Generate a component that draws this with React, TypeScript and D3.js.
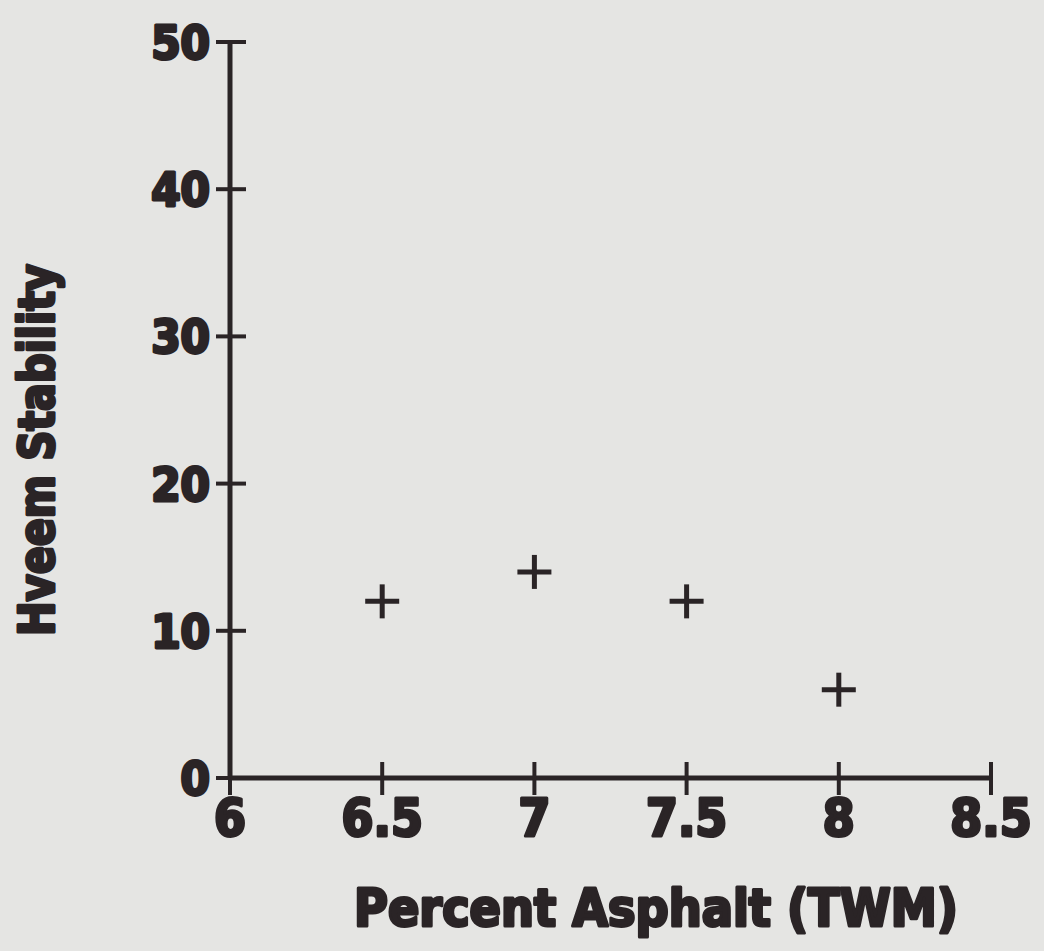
import React from "react";
import * as d3 from "d3";

const xTickValues = [6, 6.5, 7, 7.5, 8, 8.5];
const xTickLabels = ["6", "6.5", "7", "7.5", "8", "8.5"];
const yTickValues = [0, 10, 20, 30, 40, 50];
const yTickLabels = ["0", "10", "20", "30", "40", "50"];
const asphaltPct = [6.5, 7, 7.5, 8];
const hveemStability = [12, 14, 12, 6];
const xTitle = "Percent Asphalt (TWM)";
const yTitle = "Hveem Stability";

const W = 1044;
const H = 951;
const INK = "#2a2426";
const BG = "#e5e5e3";
const FONT = "'DejaVu Sans Condensed', 'DejaVu Sans', sans-serif";

export default function App() {
  const x = d3.scaleLinear().domain([6, 8.5]).range([230, 991]);
  const y = d3.scaleLinear().domain([0, 50]).range([778, 42]);
  const plus = 17;
  const textProps = {
    fontFamily: FONT,
    fontWeight: "bold",
    fill: INK,
    stroke: INK,
    strokeWidth: 3,
    strokeLinejoin: "round" as const,
  };
  return (
    <svg width={W} height={H} style={{ position: "absolute", left: 0, top: 0, background: BG }}>
      <rect x={0} y={0} width={W} height={H} fill={BG} />
      <line x1={x(6)} x2={x(6)} y1={y(50)} y2={y(0) + 2} stroke={INK} strokeWidth={5} />
      <line x1={x(6) - 2} x2={x(8.5)} y1={y(0)} y2={y(0)} stroke={INK} strokeWidth={5} />
      {yTickValues.map((v, i) => (
        <g key={"y" + i}>
          <line x1={x(6) - 14} x2={x(6) + 16} y1={y(v)} y2={y(v)} stroke={INK} strokeWidth={4} />
          <text x={210} y={y(v)} dy="0.36em" textAnchor="end" fontSize={47} {...textProps}>
            {yTickLabels[i]}
          </text>
        </g>
      ))}
      {xTickValues.map((v, i) => (
        <g key={"x" + i}>
          <line x1={x(v)} x2={x(v)} y1={y(0) - 16} y2={y(0) + 17} stroke={INK} strokeWidth={4} />
          <text x={x(v)} y={836} textAnchor="middle" fontSize={51} {...textProps}>
            {xTickLabels[i]}
          </text>
        </g>
      ))}
      {asphaltPct.map((v, i) => (
        <g key={"p" + i} stroke={INK} strokeWidth={5}>
          <line x1={x(v) - plus} x2={x(v) + plus} y1={y(hveemStability[i])} y2={y(hveemStability[i])} />
          <line x1={x(v)} x2={x(v)} y1={y(hveemStability[i]) - plus} y2={y(hveemStability[i]) + plus} />
        </g>
      ))}
      <text x={656} y={926} textAnchor="middle" fontSize={52} textLength={604}
        lengthAdjust="spacingAndGlyphs" {...textProps}>
        {xTitle}
      </text>
      <text transform={`translate(54,450) rotate(-90)`} textAnchor="middle" fontSize={50}
        textLength={372} lengthAdjust="spacingAndGlyphs" {...textProps}>
        {yTitle}
      </text>
    </svg>
  );
}
